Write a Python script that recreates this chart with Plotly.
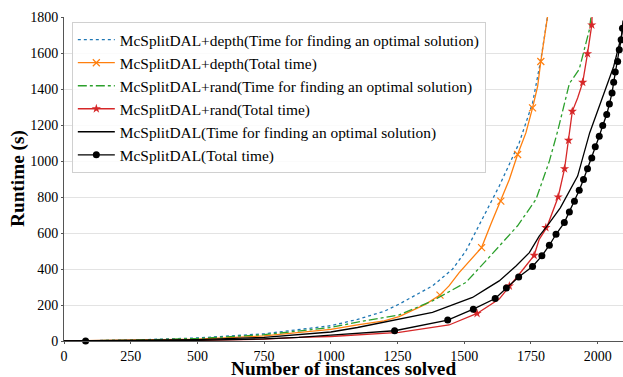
import plotly.graph_objects as go

# ---- data ----
depth_opt_x = [0, 250, 500, 750, 1000, 1100, 1200, 1256, 1381, 1456, 1506, 1562, 1631, 1706, 1756, 1787, 1812]
depth_opt_y = [0, 5, 17, 40, 85, 120, 165, 205, 306, 399, 500, 660, 860, 1101, 1322, 1562, 1800]

depth_tot_x = [0, 250, 500, 750, 1000, 1100, 1200, 1256, 1356, 1409, 1443, 1481, 1565, 1600, 1637, 1669, 1700, 1731, 1756, 1775, 1787, 1812]
depth_tot_y = [0, 3, 10, 28, 65, 90, 112, 135, 205, 255, 306, 380, 519, 650, 777, 897, 1036, 1156, 1295, 1414, 1553, 1800]
depth_tot_mx = [1409, 1565, 1637, 1700, 1756, 1787]
depth_tot_my = [255, 519, 777, 1036, 1295, 1553]

rand_opt_x = [0, 250, 500, 750, 1000, 1100, 1200, 1256, 1381, 1506, 1581, 1631, 1700, 1769, 1819, 1850, 1894, 1931, 1969, 1975]
rand_opt_y = [0, 4, 14, 35, 75, 105, 130, 145, 223, 325, 445, 528, 640, 787, 999, 1165, 1430, 1510, 1729, 1800]

rand_tot_x = [0, 250, 500, 750, 880, 1000, 1256, 1443, 1548, 1631, 1669, 1706, 1762, 1781, 1809, 1831, 1852, 1876, 1891, 1905, 1925, 1944, 1962, 1978, 1979]
rand_tot_y = [0, 1, 3, 10, 20, 25, 48, 89, 153, 233, 306, 371, 476, 565, 630, 713, 800, 957, 1115, 1276, 1350, 1437, 1596, 1756, 1800]
rand_tot_mx = [1548, 1669, 1762, 1806, 1852, 1876, 1891, 1905, 1944, 1962, 1978]
rand_tot_my = [153, 306, 476, 630, 800, 957, 1115, 1276, 1437, 1596, 1756]

dal_opt_x = [0, 250, 500, 750, 1000, 1100, 1256, 1381, 1481, 1531, 1581, 1631, 1694, 1744, 1781, 1811, 1860, 1925, 1970, 2015, 2060, 2090, 2095]
dal_opt_y = [0, 2, 8, 20, 50, 75, 122, 159, 214, 242, 288, 334, 417, 491, 583, 639, 740, 916, 1156, 1341, 1525, 1700, 1740]

dal_tot_x = [0, 81, 250, 500, 750, 880, 1000, 1100, 1239, 1438, 1534, 1616, 1658, 1704, 1756, 1791, 1819, 1844, 1875, 1894, 1913, 1931, 1947, 1962, 1978, 1991, 2006, 2019, 2034, 2044, 2054, 2060, 2066, 2075, 2081, 2088, 2093, 2095]
dal_tot_y = [0, 0, 1, 4, 12, 20, 33, 42, 57, 116, 177, 236, 294, 356, 414, 473, 532, 593, 658, 716, 777, 837, 897, 957, 1017, 1079, 1137, 1197, 1258, 1317, 1378, 1437, 1494, 1553, 1618, 1673, 1738, 1780]
dal_tot_mx = [81, 1239, 1438, 1534, 1616, 1658, 1704, 1756, 1791, 1819, 1844, 1875, 1894, 1913, 1931, 1947, 1962, 1978, 1991, 2006, 2019, 2034, 2044, 2054, 2060, 2066, 2075, 2081, 2088, 2093]
dal_tot_my = [0, 57, 116, 177, 236, 294, 356, 414, 473, 532, 593, 658, 716, 777, 837, 897, 957, 1017, 1079, 1137, 1197, 1258, 1317, 1378, 1437, 1494, 1553, 1618, 1673, 1738]

x_ticks = [0, 250, 500, 750, 1000, 1250, 1500, 1750, 2000]
y_ticks = [0, 200, 400, 600, 800, 1000, 1200, 1400, 1600, 1800]

names = [
    "McSplitDAL+depth(Time for finding an optimal solution)",
    "McSplitDAL+depth(Total time)",
    "McSplitDAL+rand(Time for finding an optimal solution)",
    "McSplitDAL+rand(Total time)",
    "McSplitDAL(Time for finding an optimal solution)",
    "McSplitDAL(Total time)",
]

BLUE = "#1f77b4"
ORANGE = "#ff7f0e"
GREEN = "#2ca02c"
RED = "#d62728"
BLACK = "#000000"

fig = go.Figure()

series = [
    (depth_opt_x, depth_opt_y, None, None, BLUE, "dot", None),
    (depth_tot_x, depth_tot_y, depth_tot_mx, depth_tot_my, ORANGE, "solid", "x-thin"),
    (rand_opt_x, rand_opt_y, None, None, GREEN, "dashdot", None),
    (rand_tot_x, rand_tot_y, rand_tot_mx, rand_tot_my, RED, "solid", "star"),
    (dal_opt_x, dal_opt_y, None, None, BLACK, "solid", None),
    (dal_tot_x, dal_tot_y, dal_tot_mx, dal_tot_my, BLACK, "solid", "circle"),
]

def marker_style(sym, color):
    if sym == "x-thin":
        return dict(symbol=sym, size=7, color=color, line=dict(color=color, width=1.2))
    return dict(symbol=sym, size=7, color=color, line=dict(width=0))

for name, (x, y, mx, my, color, dash, sym) in zip(names, series):
    lw = 1.3
    fig.add_trace(go.Scatter(x=x, y=y, mode="lines", line=dict(color=color, width=lw, dash=dash),
                             showlegend=False, legendgroup=name, hoverinfo="skip"))
    if mx is not None:
        fig.add_trace(go.Scatter(x=mx, y=my, mode="markers", marker=marker_style(sym, color),
                                 showlegend=False, legendgroup=name, hoverinfo="skip", cliponaxis=False))
        fig.add_trace(go.Scatter(x=[None], y=[None], mode="lines+markers", name=name, legendgroup=name,
                                 line=dict(color=color, width=lw, dash=dash), marker=marker_style(sym, color)))
    else:
        fig.add_trace(go.Scatter(x=[None], y=[None], mode="lines", name=name, legendgroup=name,
                                 line=dict(color=color, width=lw, dash=dash)))

serif = "Liberation Serif, Times New Roman, serif"

fig.update_layout(
    width=623, height=377,
    margin=dict(l=64, r=0, t=17, b=36, autoexpand=False),
    paper_bgcolor="white", plot_bgcolor="white",
    font=dict(family=serif, size=14, color="black"),
    showlegend=True,
    legend=dict(
        x=0.014, y=0.984, xanchor="left", yanchor="top",
        bgcolor="rgba(255,255,255,0.85)", bordercolor="#d0d0d0", borderwidth=1,
        font=dict(family=serif, size=15.4, color="black"),
        itemwidth=37, tracegroupgap=0,
    ),
    xaxis=dict(
        range=[0, 2095], tickvals=x_ticks, automargin=False,
        showgrid=False, zeroline=False, showline=True, linecolor="#555", linewidth=1,
        ticks="outside", ticklen=2, tickcolor="#555",
        tickfont=dict(family=serif, size=14, color="black"),
    ),
    yaxis=dict(
        range=[0, 1800], tickvals=y_ticks, automargin=False,
        showgrid=True, gridcolor="#e3e3e3", gridwidth=1, zeroline=False,
        showline=True, linecolor="#555", linewidth=1,
        ticks="outside", ticklen=2, tickcolor="#555",
        tickfont=dict(family=serif, size=14, color="black"),
    ),
    annotations=[
        dict(text="<b>Number of instances solved</b>", xref="paper", yref="paper",
             x=0.5, y=0, yshift=-27, xanchor="center", yanchor="middle", showarrow=False,
             font=dict(family=serif, size=19.3, color="black")),
        dict(text="<b>Runtime (s)</b>", xref="paper", yref="paper",
             x=0, xshift=-46, y=0.5, xanchor="center", yanchor="middle", showarrow=False, textangle=-90,
             font=dict(family=serif, size=19.3, color="black")),
    ],
)

# remove the browser's default 8px page margin so the 623x377 figure fills the window exactly
fig.write_html("out.html", config={"displayModeBar": False},
               post_script="document.body.style.margin='0px';document.body.style.overflow='hidden';")
